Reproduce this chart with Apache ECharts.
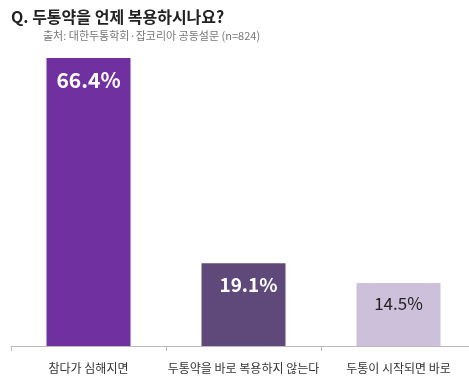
<!DOCTYPE html>
<html><head><meta charset="utf-8">
<script src="https://cdn.jsdelivr.net/npm/echarts@6/dist/echarts.min.js"></script>
<style>html,body{margin:0;padding:0;background:#fff}#c{width:469px;height:384px}</style>
</head><body><div id="c"></div>
<script>
const categories = ['참다가 심해지면', '두통약을 바로 복용하지 않는다', '두통이 시작되면 바로'];
const values = [66.4, 19.1, 14.5];
const barColors = ['#7030A0', '#5F497A', '#CCC0DA'];
const labelColors = ['#ffffff', '#ffffff', '#222222'];
const labelWeights = ['bold', 'bold', 'normal'];

const chart = echarts.init(document.getElementById('c'));
const font = '"Noto Sans CJK KR", "Noto Sans", sans-serif';
chart.setOption({
  animation: false,
  textStyle: { fontFamily: font },
  title: [
    { text: 'Q. 두통약을 언제 복용하시나요?', left: 6, top: 4,
      textStyle: { fontSize: 16, fontWeight: 'bold', color: '#222', fontFamily: font } },
    { text: '출처: 대한두통학회·잡코리아 공동설문 (n=824)', left: 38, top: 25,
      textStyle: { fontSize: 11, fontWeight: 'normal', color: '#777', fontFamily: font } }
  ],
  grid: { left: 11, top: 42.4, width: 465, height: 303.6, containLabel: false, outerBoundsMode: 'none' },
  xAxis: {
    type: 'category', data: categories,
    axisLine: { lineStyle: { color: '#bbbbbb', width: 1 } },
    axisTick: { show: true, inside: false, length: 5, lineStyle: { color: '#bbbbbb' } },
    axisLabel: { color: '#333', fontSize: 12, margin: 16, interval: 0, fontFamily: font }
  },
  yAxis: { type: 'value', min: 0, max: 70, show: false, splitLine: { show: false } },
  series: [{
    type: 'bar', barWidth: 84,
    data: values.map((v, i) => ({
      value: v,
      itemStyle: { color: barColors[i] },
      label: { show: true, position: 'insideTop', distance: 12,
        formatter: v + '%', color: labelColors[i], fontWeight: labelWeights[i],
        fontSize: i === 0 ? 21 : (i === 1 ? 19 : 17), fontFamily: font,
        offset: i === 1 ? [5, 0] : [0, 0] }
    }))
  }]
});
</script></body></html>
